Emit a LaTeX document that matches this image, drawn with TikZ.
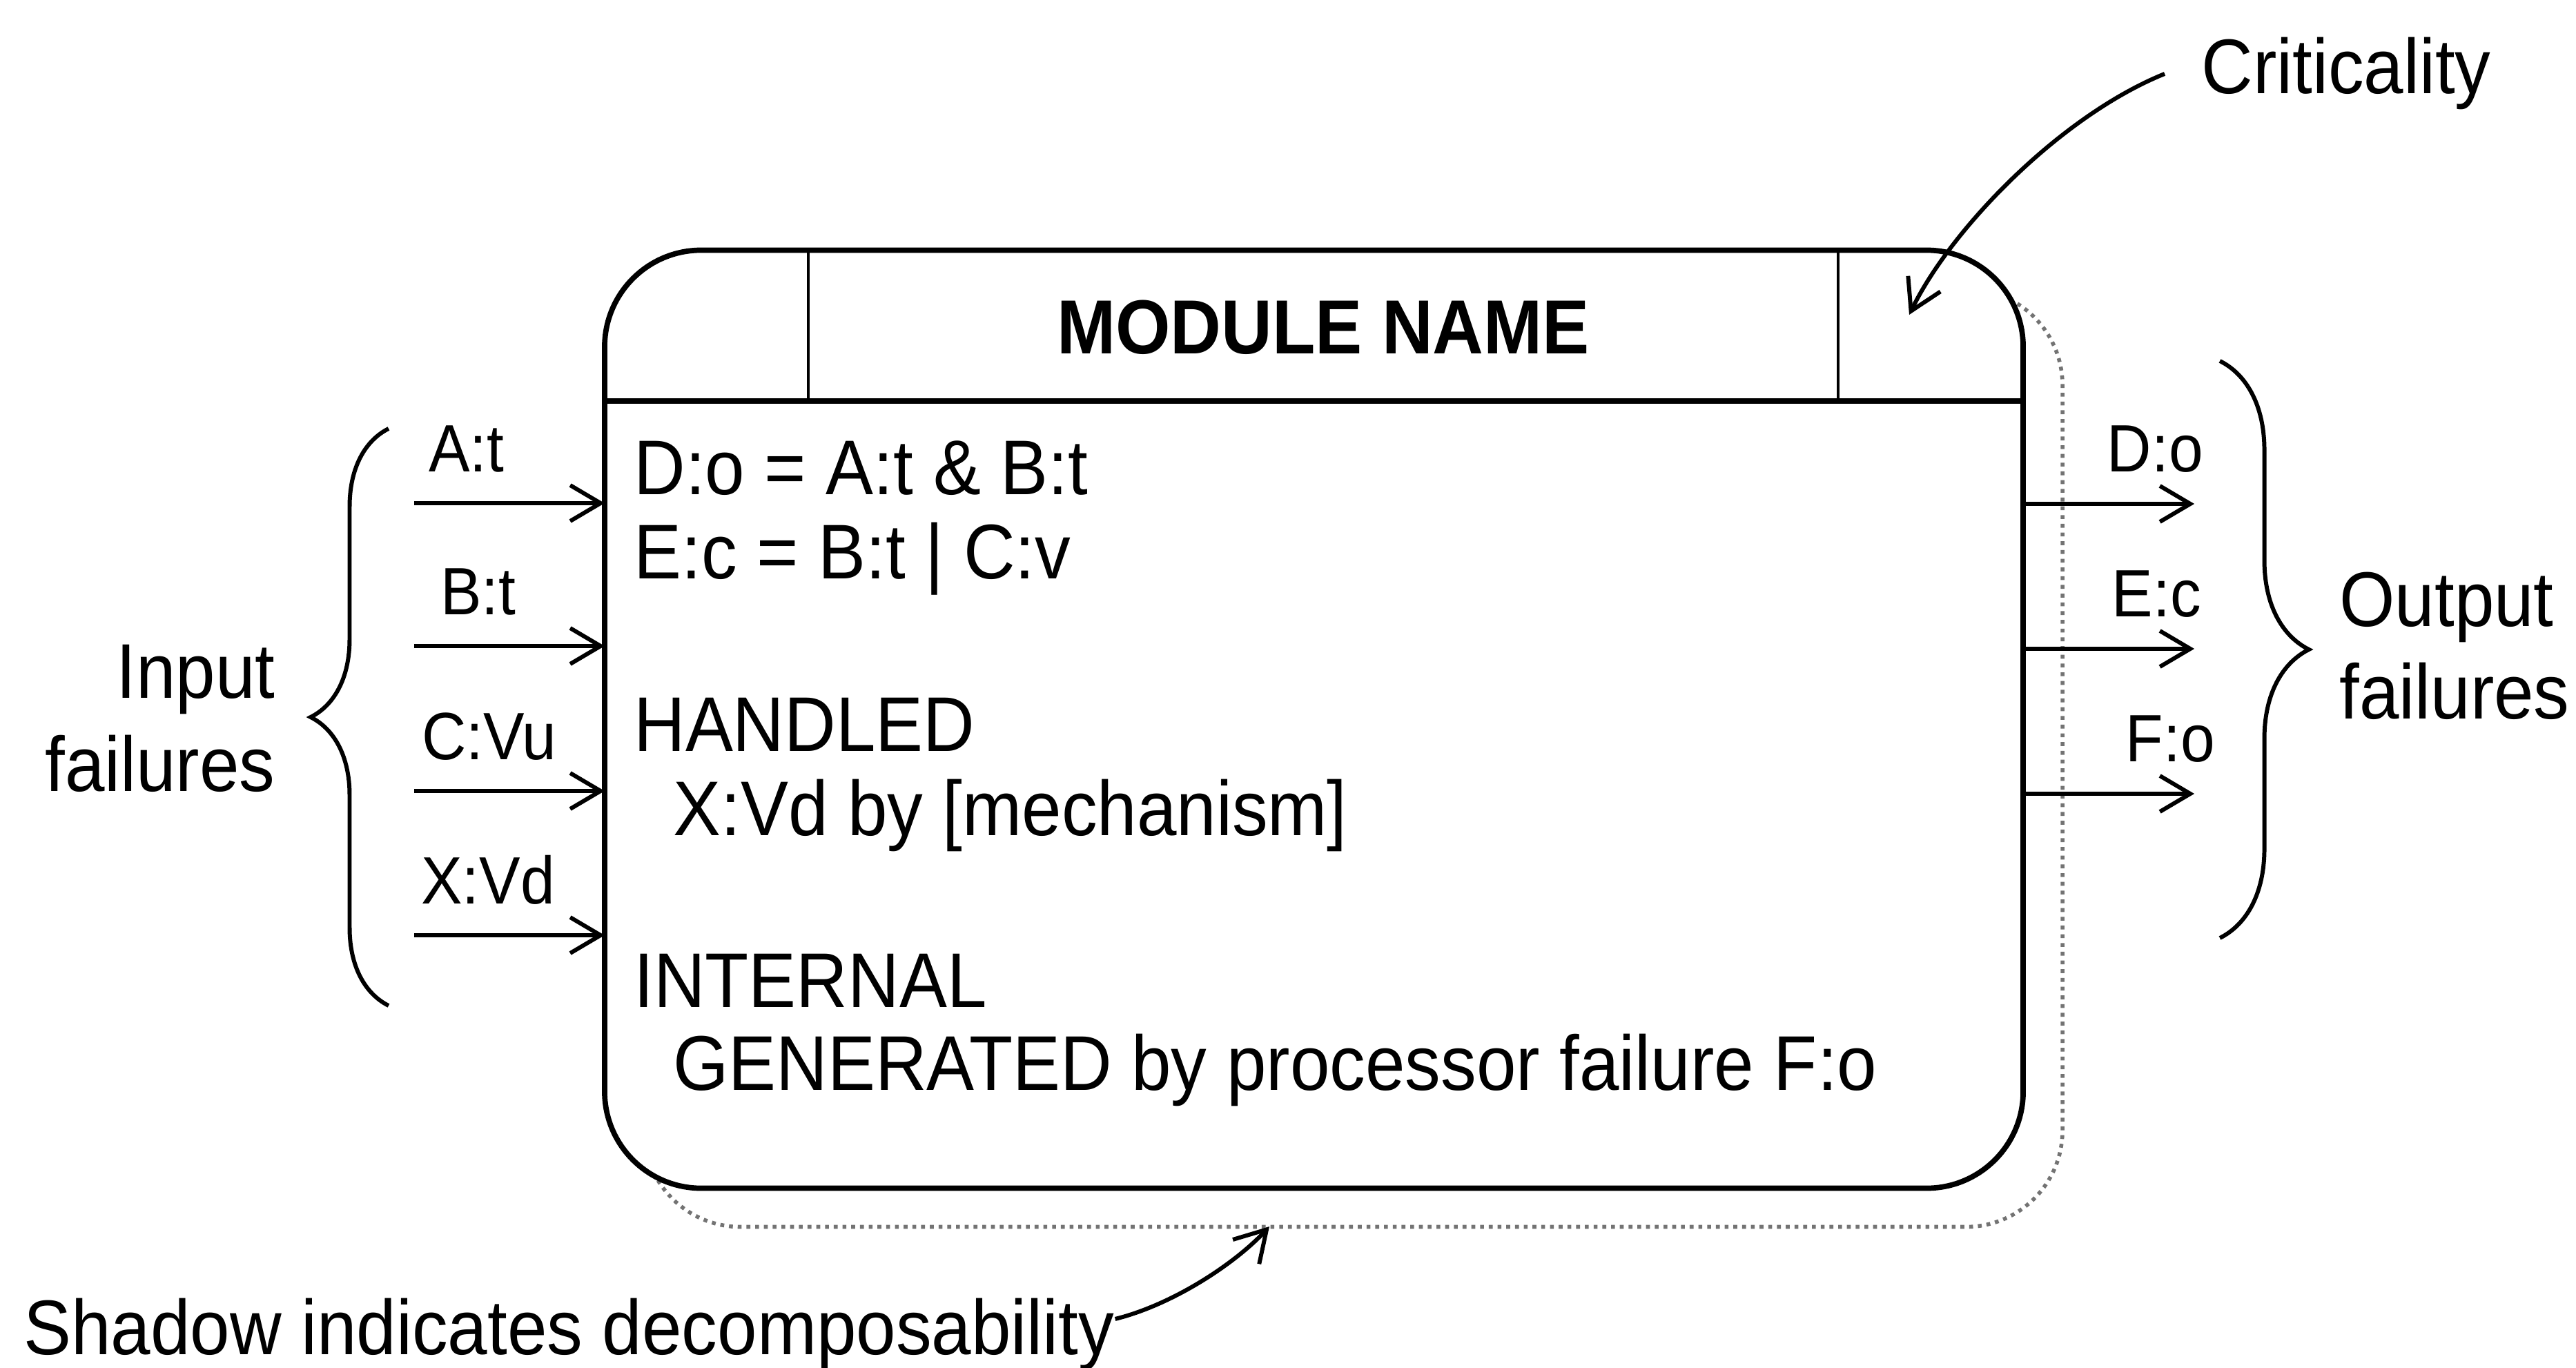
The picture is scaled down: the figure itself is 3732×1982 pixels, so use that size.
\documentclass[tikz,border=0pt]{standalone}
\usepackage{fontspec}
\setmainfont{Liberation Sans}[FakeStretch=0.92]
\usetikzlibrary{arrows.meta,decorations.pathreplacing,shadows}

\begin{document}
\begin{tikzpicture}[x=0.05mm, y=-0.05mm,
	every node/.style={font=\fontsize{15.98}{19.1}\selectfont, inner sep=0pt},
	>={Straight Barb[length=2.2mm,width=2.6mm]},
	modbox/.style={draw, line width=1.1pt, fill=white, rounded corners=7mm,
		minimum width=102.75mm, minimum height=67.95mm, outer sep=0pt,
		general shadow={draw=black!55, densely dotted, line width=0.8pt, shadow xshift=2.85mm, shadow yshift=-2.8mm}},
	flow/.style={->, line width=0.85pt},
	lbl/.style={font=\fontsize{13.8}{16.5}\selectfont},
	curly/.style={decorate, decoration={brace, amplitude=#1}, line width=0.85pt}]
	\useasboundingbox (0,0) rectangle (3732,1982);
	% module box with header
	\node[modbox] (mod) at (1903.5,1042) {};
	\coordinate (hdr) at (0,581);
	\draw[line width=1.1pt] (mod.west |- hdr) -- (mod.east |- hdr);
	\coordinate (divL) at (1171,581);
	\coordinate (divR) at (2663,581);
	\draw[line width=0.6pt] (divL) -- (divL |- mod.north);
	\draw[line width=0.6pt] (divR) -- (divR |- mod.north);
	\node[font=\bfseries\fontsize{15.8}{19}\selectfont, anchor=base] (modname) at (1917,512) {MODULE NAME};
	% body
	\node[anchor=base west] (eqD) at (917,716) {D:o = A:t \& B:t};
	\node[anchor=base west] (eqE) at (917,838) {E:c = B:t | C:v};
	\node[anchor=base west] (hnd) at (917,1088) {HANDLED};
	\node[anchor=base west] (hndX) at (974,1210) {X:Vd by [mechanism]};
	\node[anchor=base west] (int) at (917,1459) {INTERNAL};
	\node[anchor=base west] (intG) at (974,1579) {GENERATED by processor failure F:o};
	% input failures
	\foreach \nm/\y/\lx/\txt in {A/729/620/A:t, B/936/637/B:t, C/1146/610/C:Vu, X/1355/609/X:Vd} {
		\coordinate (in\nm) at (600,\y);
		\draw[flow] (in\nm) -- (in\nm -| mod.west);
		\node[lbl, anchor=base west] (lbl\nm) at (\lx,\y-46) {\txt};
	}
	\coordinate (inTop) at (563,621);
	\coordinate (inBot) at (563,1457);
	\draw[curly=5.65mm] (inBot) -- (inTop);
	\node[align=right, anchor=east] (infail) at (400,1041) {Input\\failures};
	% output failures
	\foreach \nm/\y/\lx/\txt in {D/730/3193/D:o, E/940/3190/E:c, F/1150/3210/F:o} {
		\coordinate (out\nm) at (3179,\y);
		\draw[flow] (out\nm -| mod.east) -- (out\nm);
		\node[lbl, anchor=base east] (lbl\nm) at (\lx,\y-47) {\txt};
	}
	\coordinate (outTop) at (3216,523);
	\coordinate (outBot) at (3216,1359);
	\draw[curly=6.45mm] (outTop) -- (outBot);
	\node[align=left, anchor=west] (outfail) at (3388,936) {Output\\failures};
	% annotations
	\node[anchor=base west] (crit) at (3188,136) {Criticality};
	\coordinate (critpt) at (2766,456);
	\draw[flow] ([xshift=-2.6mm]crit.west) .. controls (2985,168) and (2826,332) .. (critpt);
	\node[anchor=base west] (shnote) at (33,1962) {Shadow indicates decomposability};
	\coordinate (shpt) at (1839,1777);
	\draw[flow] ([yshift=1.1mm]shnote.east) .. controls (1700,1890) and (1790,1830) .. (shpt);
\end{tikzpicture}
\end{document}
